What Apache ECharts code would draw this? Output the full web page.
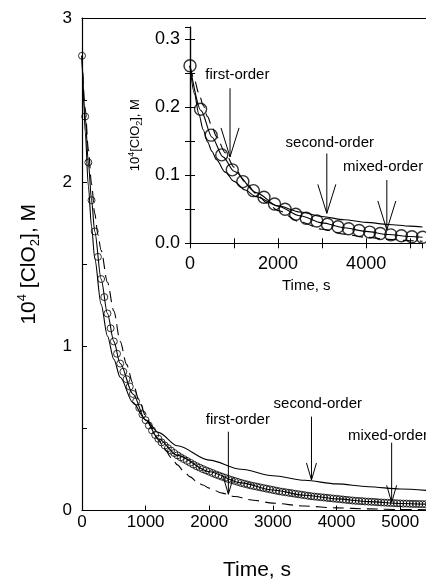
<!DOCTYPE html>
<html>
<head>
<meta charset="utf-8">
<script src="https://cdn.jsdelivr.net/npm/echarts@6/dist/echarts.min.js"></script>
<style>html,body{margin:0;padding:0;background:#fff}#c{width:426px;height:580px}</style>
</head>
<body>
<div id="c"></div>
<script>
// ---------- main panel: measured data (open circles) ----------
const mainT = [0,50,100,150,200,250,300,350,400,450,500,550,600,650,700,750,800,850,900,950,
  1000,1050,1100,1150,1200,1250,1300,1350,1400,1450,1500,1550,1600,1650,1700,1750,1800,1850,1900,1950,
  2000,2050,2100,2150,2200,2250,2300,2350,2400,2450,2500,2550,2600,2650,2700,2750,2800,2850,2900,2950,
  3000,3050,3100,3150,3200,3250,3300,3350,3400,3450,3500,3550,3600,3650,3700,3750,3800,3850,3900,3950,
  4000,4050,4100,4150,4200,4250,4300,4350,4400,4450,4500,4550,4600,4650,4700,4750,4800,4850,4900,4950,
  5000,5050,5100,5150,5200,5250,5300,5350,5400];
const mainC = [2.77,2.40,2.12,1.89,1.70,1.545,1.41,1.30,1.20,1.11,1.03,0.955,0.895,0.845,0.80,0.755,0.71,0.665,0.625,0.585,
  0.55,0.518,0.488,0.46,0.437,0.415,0.396,0.38,0.365,0.35,0.336,0.324,0.313,0.302,0.291,0.28,0.27,0.261,0.252,0.244,
  0.236,0.228,0.22,0.213,0.206,0.199,0.192,0.186,0.18,0.174,0.168,0.163,0.158,0.153,0.149,0.145,0.141,0.137,0.133,0.129,
  0.125,0.121,0.117,0.114,0.111,0.108,0.105,0.102,0.099,0.096,0.093,0.09,0.087,0.085,0.083,0.081,0.079,0.077,0.075,0.073,
  0.071,0.069,0.067,0.065,0.063,0.061,0.059,0.058,0.057,0.055,0.054,0.053,0.052,0.05,0.049,0.048,0.047,0.046,0.045,0.044,
  0.043,0.042,0.042,0.041,0.04,0.04,0.039,0.039,0.038];

// main panel: fitted curves
const main2ndT = [0,25,50,100,150,200,300,400,500,600,800,1000,1200,1500,2000,2500,3000,3500,4000,4500,5000,5500];
const main2ndC = [2.77,2.517,2.307,1.976,1.729,1.536,1.256,1.063,0.921,0.812,0.657,0.552,0.476,0.394,0.307,0.251,0.212,0.184,0.162,0.145,0.131,0.120];
const main1stT = [0,50,100,150,200,250,300,400,500,600,700,800,900,1000,1100,1200,1300,1400,1500,1600,1700,1800,1900,2000,2200,2400,2700,3000,3500,4000,4500,5000,5500];
const main1stC = [2.77,2.45,2.20,1.99,1.81,1.68,1.585,1.39,1.215,1.03,0.89,0.775,0.668,0.578,0.50,0.43,0.374,0.322,0.278,0.238,0.205,0.177,0.155,0.136,0.106,0.085,0.062,0.045,0.027,0.016,0.010,0.006,0.004];
const mainMixT = [0,50,100,150,200,300,400,500,600,800,1000,1200,1500,2000,2500,3000,3500,4000,4500,5000,5500];
const mainMixC = [2.77,2.40,2.12,1.89,1.70,1.41,1.20,1.03,0.895,0.71,0.55,0.437,0.336,0.236,0.168,0.125,0.093,0.071,0.054,0.043,0.037];

// main panel annotations
const mainLabels = ['first-order','second-order','mixed-order'];
const mainArrowT = [2300,3606,4866];
const mainArrowTop = [0.48,0.572,0.413];
const mainArrowTip = [0.099,0.186,0.05];
const mainTextT = [2449,3705,4808];
const mainTextC = [0.552,0.648,0.454];

// ---------- inset panel ----------
const insetT = [0,240,480,720,960,1200,1440,1680,1920,2160,2400,2640,2880,3120,3360,3600,3840,4080,4320,4560,4800,5040,5280];
const insetC = [0.261,0.197,0.159,0.130,0.108,0.0907,0.0774,0.0676,0.0578,0.050,0.0426,0.0368,0.0328,0.0279,0.0244,0.0215,0.0188,0.0165,0.0145,0.0124,0.0112,0.0097,0.0088];
const ins2ndT = [0,100,200,300,400,500,600,800,1000,1250,1500,2000,2500,3000,3500,4000,4500,5000,5280];
const ins2ndC = [0.261,0.22,0.190,0.167,0.149,0.135,0.123,0.1046,0.091,0.0783,0.0686,0.0551,0.046,0.0395,0.0346,0.0308,0.0277,0.0252,0.024];
const ins1stT = [0,100,200,300,400,500,600,800,1000,1250,1500,1750,2000,2500,3000,3500,4000,4500,5000,5280];
const ins1stC = [0.261,0.240,0.221,0.203,0.186,0.171,0.157,0.133,0.112,0.0906,0.0733,0.0593,0.048,0.0315,0.0206,0.0135,0.0088,0.0058,0.0038,0.003];
const insMixT = [0,250,500,750,1000,1500,2000,2500,3000,3500,4000,4500,5000,5280];
const insMixC = [0.261,0.195,0.156,0.127,0.106,0.0745,0.0545,0.0405,0.030,0.0228,0.0175,0.0130,0.0100,0.0088];

const insetLabels = ['first-order','second-order','mixed-order'];
const insetArrowT = [909,3107,4470];
const insetArrowTop = [0.228,0.132,0.093];
const insetArrowTip = [0.127,0.044,0.0196];
const insetTextT = [1075,3175,4386];
const insetTextC = [0.2475,0.148,0.1126];

// ---------- build ----------
const FONT = '"Liberation Sans", Arial, Helvetica, sans-serif';
const pairs = (t, c) => t.map((x, i) => [x, c[i]]);
const noteRows = (t, top, tip, tt, tc) => t.map((x, i) => [x, top[i], tip[i], tt[i], tc[i]]);

function arrowRenderer(labels, hw, hh, fs) {
  return function (params, api) {
    const top = api.coord([api.value(0), api.value(1)]);
    const tip = api.coord([api.value(0), api.value(2)]);
    const tp = api.coord([api.value(3), api.value(4)]);
    return {
      type: 'group',
      children: [
        { type: 'line', shape: { x1: top[0], y1: top[1], x2: tip[0], y2: tip[1] },
          style: { stroke: '#000', lineWidth: 1 } },
        { type: 'polyline', shape: { points: [[tip[0] - hw, tip[1] - hh], [tip[0], tip[1]], [tip[0] + hw, tip[1] - hh]] },
          style: { stroke: '#000', fill: 'none', lineWidth: 1 } },
        { type: 'text', style: { text: labels[params.dataIndex], x: tp[0], y: tp[1], align: 'center', verticalAlign: 'middle',
          fontSize: fs, fontFamily: FONT, fill: '#000' } }
      ]
    };
  };
}

const axisLineBlack = { show: true, lineStyle: { color: '#000', width: 1.2 } };
const tickIn = { show: true, inside: true, length: 5, lineStyle: { color: '#000', width: 1 } };
const intLabel = v => Math.abs(v - Math.round(v)) < 1e-6 ? String(Math.round(v)) : '';

const lineSeries = (xi, yi, data, dashed) => ({
  type: 'line', xAxisIndex: xi, yAxisIndex: yi, data: data, showSymbol: false, symbol: 'none',
  smooth: 0.3, smoothMonotone: 'x', silent: true,
  lineStyle: { color: '#000', width: 1.1, type: dashed ? [11, 6] : 'solid' }
});

const chart = echarts.init(document.getElementById('c'), null, { renderer: 'canvas' });
chart.setOption({
  backgroundColor: '#fff',
  animation: false,
  grid: [
    { left: 82, top: 18, width: 350, height: 492.5, show: false, containLabel: false, outerBoundsMode: 'none' },
    { left: 190, top: 27, width: 232.5, height: 216.3, show: true, backgroundColor: '#fff', borderWidth: 0,
      containLabel: false, outerBoundsMode: 'none' }
  ],
  xAxis: [
    { gridIndex: 0, type: 'value', min: 0, max: 5500, interval: 1000, position: 'bottom',
      axisLine: axisLineBlack, axisTick: tickIn, splitLine: { show: false },
      axisLabel: { fontSize: 17, color: '#000', fontFamily: FONT, margin: 3,
        formatter: v => (v % 1000 === 0 && v <= 5000) ? String(v) : '' },
      name: 'Time, s', nameLocation: 'middle', nameGap: 49,
      nameTextStyle: { fontSize: 21, color: '#000', fontFamily: FONT } },
    { gridIndex: 0, type: 'value', min: 0, max: 5500, position: 'top',
      axisLine: axisLineBlack, axisTick: { show: false }, axisLabel: { show: false }, splitLine: { show: false } },
    { gridIndex: 1, type: 'value', min: 0, max: 5280, interval: 1000, position: 'bottom',
      axisLine: axisLineBlack, axisTick: tickIn, splitLine: { show: false },
      axisLabel: { fontSize: 18, color: '#000', fontFamily: FONT, margin: 12, showMaxLabel: false,
        formatter: v => (v % 2000 === 0) ? String(v) : '' },
      name: 'Time, s', nameLocation: 'middle', nameGap: 35,
      nameTextStyle: { fontSize: 15, color: '#000', fontFamily: FONT } },
    { gridIndex: 1, type: 'value', min: 0, max: 5280, interval: 1000, position: 'top',
      axisLine: axisLineBlack, axisTick: tickIn, axisLabel: { show: false }, splitLine: { show: false } }
  ],
  yAxis: [
    { gridIndex: 0, type: 'value', min: 0, max: 3, interval: 0.5, position: 'left',
      axisLine: axisLineBlack, axisTick: tickIn, splitLine: { show: false },
      axisLabel: { fontSize: 17, color: '#000', fontFamily: FONT, margin: 10, formatter: intLabel },
      name: '{n|10}{sup|4}{n| [ClO}{sub|2}{n|], M}', nameLocation: 'middle', nameGap: 40,
      nameTextStyle: { color: '#000', fontFamily: FONT,
        rich: {
          n: { fontSize: 21, fontFamily: FONT, color: '#000', lineHeight: 26 },
          sup: { fontSize: 13, fontFamily: FONT, color: '#000', lineHeight: 14, verticalAlign: 'top' },
          sub: { fontSize: 13, fontFamily: FONT, color: '#000', lineHeight: 14, verticalAlign: 'bottom' }
        } } },
    { gridIndex: 1, type: 'value', min: 0, max: 0.318, interval: 0.05, position: 'left',
      axisLine: axisLineBlack, axisTick: tickIn, splitLine: { show: false },
      axisLabel: { fontSize: 18, color: '#000', fontFamily: FONT, margin: 10, showMaxLabel: false,
        formatter: v => { const r = Math.round(v * 10); return Math.abs(v * 10 - r) < 1e-6 ? (r / 10).toFixed(1) : ''; } },
      name: '{n|10}{sup|4}{n|[ClO}{sub|2}{n|], M}', nameLocation: 'middle', nameGap: 42,
      nameTextStyle: { color: '#000', fontFamily: FONT,
        rich: {
          n: { fontSize: 13, fontFamily: FONT, color: '#000', lineHeight: 17 },
          sup: { fontSize: 9, fontFamily: FONT, color: '#000', lineHeight: 10, verticalAlign: 'top' },
          sub: { fontSize: 9, fontFamily: FONT, color: '#000', lineHeight: 10, verticalAlign: 'bottom' }
        } } },
    { gridIndex: 1, type: 'value', min: 0, max: 0.318, interval: 0.05, position: 'right',
      axisLine: axisLineBlack, axisTick: tickIn, axisLabel: { show: false }, splitLine: { show: false } }
  ],
  series: [
    { type: 'scatter', xAxisIndex: 0, yAxisIndex: 0, data: pairs(mainT, mainC), symbol: 'circle', symbolSize: 7,
      silent: true, itemStyle: { color: 'rgba(0,0,0,0)', borderColor: '#000', borderWidth: 1 } },
    lineSeries(0, 0, pairs(main2ndT, main2ndC), false),
    lineSeries(0, 0, pairs(main1stT, main1stC), true),
    lineSeries(0, 0, pairs(mainMixT, mainMixC), false),
    { type: 'custom', xAxisIndex: 0, yAxisIndex: 0, silent: true, clip: false,
      data: noteRows(mainArrowT, mainArrowTop, mainArrowTip, mainTextT, mainTextC),
      encode: { x: [0, 3], y: [1, 2, 4] },
      renderItem: arrowRenderer(mainLabels, 5, 17, 15) },

    { type: 'scatter', xAxisIndex: 2, yAxisIndex: 1, data: pairs(insetT, insetC), symbol: 'circle', symbolSize: 12,
      silent: true, itemStyle: { color: 'rgba(0,0,0,0)', borderColor: '#000', borderWidth: 1.4 } },
    lineSeries(2, 1, pairs(ins2ndT, ins2ndC), false),
    lineSeries(2, 1, pairs(ins1stT, ins1stC), true),
    lineSeries(2, 1, pairs(insMixT, insMixC), false),
    { type: 'custom', xAxisIndex: 2, yAxisIndex: 1, silent: true, clip: false,
      data: noteRows(insetArrowT, insetArrowTop, insetArrowTip, insetTextT, insetTextC),
      encode: { x: [0, 3], y: [1, 2, 4] },
      renderItem: arrowRenderer(insetLabels, 9, 29, 15) }
  ]
});
</script>
</body>
</html>
